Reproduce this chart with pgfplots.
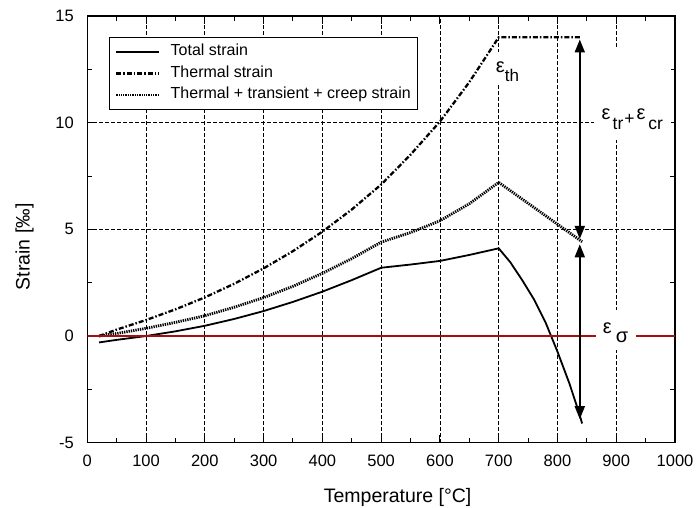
\documentclass[border=0pt]{standalone}
\usepackage{fontspec}
\setmainfont{Liberation Sans}
\usepackage{pgfplots}
\pgfplotsset{compat=1.18}
\usetikzlibrary{arrows.meta}
\definecolor{zeroline}{RGB}{165,15,15}
\newcommand{\fs}[1]{\fontsize{#1}{#1}\selectfont}
\begin{document}
\begin{tikzpicture}
\useasboundingbox (-87.3bp,-65.3bp) rectangle (608.7bp,442.7bp);
\begin{axis}[
    at={(0,0)}, anchor=south west,
    scale only axis, width=587.7bp, height=426.7bp,
    xmin=0, xmax=1000, ymin=-5, ymax=15,
    xtick={0,100,...,1000},
    xticklabels={0,100,200,300,400,500,600,700,800,900,1000},
    ytick={-5,0,5,10,15},
    yticklabels={-5,0,5,10,15},
    minor x tick num=1, minor y tick num=1,
    tick align=inside,
    major tick length=8bp, minor tick length=5bp,
    every tick/.style={black, line width=1bp},
    axis line style={line width=1.5bp},
    ticklabel style={font=\fs{16.5bp}},
    xticklabel style={yshift=-8.5bp},
    yticklabel style={xshift=-10bp},
    grid=major,
    major grid style={black, line width=0.8bp, dash pattern=on 3.5bp off 2.5bp},
    xlabel={Temperature [°C]},
    xlabel style={at={(axis description cs:0.528,-0.1406)}, anchor=base, font=\fs{19.5bp}},
    ylabel={Strain [‰]},
    ylabel style={at={(axis description cs:-0.098,0.459)}, anchor=base, font=\fs{19.5bp}},
    legend image code/.code={\draw[#1] (0bp,0bp) -- (43bp,0bp);},
    legend cell align=left,
    legend style={at={(axis description cs:0.0369,0.9507)}, anchor=north west,
        draw=black, line width=0.8bp, fill=white, inner sep=5.5bp,
        font=\fs{16bp}, row sep=3.5bp, column sep=8.5bp,
        nodes={inner sep=1.5bp, text height=11.5bp, text depth=3.5bp}},
  ]
  % total strain
  \addplot[black, line width=1.8bp] coordinates {
    (20,-0.3) (50,-0.18) (100,0.0) (150,0.22) (200,0.48) (250,0.8) (300,1.17)
    (350,1.6) (400,2.08) (450,2.62) (500,3.2) (550,3.35) (600,3.52) (650,3.8)
    (700,4.11) (720,3.45) (740,2.62) (760,1.72) (780,0.62) (800,-0.73)
    (820,-2.2) (835,-3.45) (842,-4.1)
  };
  \addlegendentry{Total strain}
  % thermal strain
  \addplot[black, line width=2.3bp, dash pattern=on 5bp off 2bp on 1.5bp off 2bp] coordinates {
    (20,0) (50,0.3) (100,0.75) (150,1.25) (200,1.81) (250,2.45) (300,3.17)
    (350,3.98) (400,4.89) (450,5.93) (500,7.1) (550,8.5) (600,10.05)
    (650,11.9) (700,14.0) (838,14.0)
  };
  \addlegendentry{Thermal strain}
  % thermal + transient + creep
  \addplot[black, line width=2.8bp, dash pattern=on 1.3bp off 1bp] coordinates {
    (20,0) (50,0.12) (100,0.36) (150,0.64) (200,0.95) (250,1.35) (300,1.8)
    (350,2.33) (400,2.94) (450,3.63) (500,4.4) (550,4.85) (600,5.4)
    (650,6.2) (700,7.2) (842,4.42)
  };
  \addlegendentry{Thermal + transient + creep strain}
  % zero line
  \addplot[zeroline, line width=1.6bp, forget plot] coordinates {(0,0) (1000,0)};

  % masks and labels
  \fill[white] (axis cs:866,-0.66) rectangle (axis cs:933,1.22);
  \node[anchor=base west, inner sep=0] at (axis cs:877,0.14)
    {\fs{20bp}ε\hspace{4bp}\raisebox{-9bp}{σ}};
  \fill[white] (axis cs:690,11.77) rectangle (axis cs:712,13.3);
  \node[anchor=base west, inner sep=0] at (axis cs:695,12.33)
    {\fs{20bp}ε\raisebox{-9bp}{\fs{17bp}th}};
  \fill[white] (axis cs:862,9.19) rectangle (axis cs:994,13.55);
  \node[anchor=base west, inner sep=0] at (axis cs:875,10.13)
    {\fs{20bp}ε\hspace{2bp}\raisebox{-10bp}{\fs{17.5bp}tr}\hspace{1bp}\raisebox{-5bp}{\fs{17.5bp}+}\hspace{2bp}ε\hspace{3bp}\raisebox{-10bp}{\fs{17.5bp}cr}};

  % arrows
  \draw[line width=1.8bp, {Triangle[length=13bp,width=10bp]}-{Triangle[length=13bp,width=10bp]}]
    (axis cs:838,13.9) -- (axis cs:838,4.55);
  \draw[line width=1.8bp, {Triangle[length=13bp,width=10bp]}-{Triangle[length=13bp,width=10bp]}]
    (axis cs:838,4.3) -- (axis cs:838,-3.9);
\end{axis}
\end{tikzpicture}
\end{document}
